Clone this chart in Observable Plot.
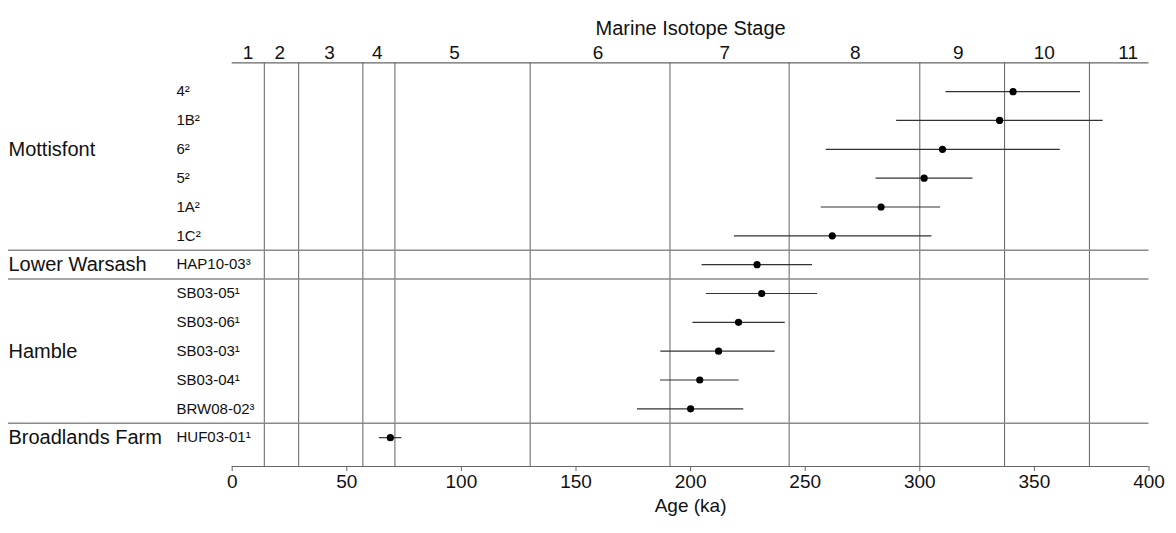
<!DOCTYPE html>
<html>
<head>
<meta charset="utf-8">
<script src="https://cdn.jsdelivr.net/npm/d3@7"></script>
<script src="https://cdn.jsdelivr.net/npm/@observablehq/plot@0.6"></script>
<style>
  html, body { margin: 0; padding: 0; background: #fff; }
  #chart svg { display: block; }
</style>
</head>
<body>
<div id="chart"></div>
<script>
// ---- data ----
const groups = ["Mottisfont", "Lower Warsash", "Hamble", "Broadlands Farm"];
const samples = ["4²", "1B²", "6²", "5²", "1A²", "1C²", "HAP10-03³", "SB03-05¹", "SB03-06¹", "SB03-03¹", "SB03-04¹", "BRW08-02³", "HUF03-01¹"];
const sampleGroup = [0, 0, 0, 0, 0, 0, 1, 2, 2, 2, 2, 2, 3];
const ageKa  = [340.7, 334.8, 309.9, 301.9, 283.1, 261.8, 229.0, 231.0, 220.9, 212.2, 204.0, 200.0, 69.0];
const ageMin = [311.4, 289.9, 259.2, 280.9, 257.0, 219.1, 205.0, 206.9, 201.0, 187.0, 186.9, 176.8, 64.2];
const ageMax = [370.1, 380.0, 361.3, 323.2, 309.1, 305.3, 253.2, 255.4, 241.3, 236.9, 221.2, 223.2, 74.0];
const misBoundaries = [14, 29, 57, 71, 130, 191, 243, 300, 337, 374];
const misLabels = ["1", "2", "3", "4", "5", "6", "7", "8", "9", "10", "11"];
const misLabelAt = [6.9, 20.8, 42.5, 63.3, 97.0, 159.6, 214.9, 271.9, 316.8, 354.3, 390.9];
const ageTicks = [0, 50, 100, 150, 200, 250, 300, 350, 400];
const xTitle = "Age (ka)";
const topTitle = "Marine Isotope Stage";

// ---- derived tables ----
const rows = samples.map((s, i) => ({
  sample: s, row: i + 1, group: sampleGroup[i],
  age: ageKa[i], lo: ageMin[i], hi: ageMax[i]
}));
const groupInfo = groups.map((g, gi) => {
  const members = rows.filter(r => r.group === gi);
  const first = members[0].row, last = members[members.length - 1].row;
  return { name: g, labelRow: first + Math.floor((members.length - 1) / 2), lastRow: last };
});
const separators = groupInfo.slice(0, -1).map(g => g.lastRow + 0.5);
const yMax = samples.length + 1;

// ---- layout ----
const W = 1176, H = 533;
const mL = 231.7, mR = 27.5, mT = 62.3, mB = 67;
const font = "'Liberation Sans', Arial, Helvetica, sans-serif";

const chart = Plot.plot({
  width: W, height: H,
  marginLeft: mL, marginRight: mR, marginTop: mT, marginBottom: mB,
  style: { fontFamily: font, color: "#111", background: "#fff", overflow: "visible" },
  x: { domain: [0, 400], label: null },
  y: { domain: [0, yMax], reverse: true, axis: null },
  marks: [
    // MIS boundary lines
    Plot.ruleX(misBoundaries, { stroke: "#626262", strokeWidth: 1 }),
    // group separators (extend into the label column)
    Plot.ruleY(separators, { stroke: "#8a8a8a", strokeWidth: 1.4, insetLeft: -(mL - 8) }),
    // top and bottom axis lines
    Plot.ruleY([0, yMax], { stroke: "#666", strokeWidth: 1.2 }),
    // top axis: Marine Isotope Stage numbers
    Plot.axisX({
      anchor: "top", ticks: misLabelAt, tickSize: 0, tickPadding: 4,
      tickFormat: d => misLabels[misLabelAt.indexOf(d)], fontSize: 19, label: null
    }),
    Plot.text([topTitle], { frameAnchor: "top", dy: -42, fontSize: 20, fill: "#111" }),
    // bottom axis
    Plot.axisX({
      anchor: "bottom", ticks: ageTicks, tickSize: 5, tickPadding: 3,
      stroke: "#666", fontSize: 19, label: null
    }),
    Plot.text([xTitle], { frameAnchor: "bottom", dy: 45, fontSize: 19, fill: "#111" }),
    // error bars and dots
    Plot.ruleY(rows, { y: "row", x1: "lo", x2: "hi", stroke: "#333", strokeWidth: 1.2 }),
    Plot.dot(rows, { y: "row", x: "age", r: 3.6, fill: "#000", stroke: null }),
    // sample labels
    Plot.text(rows, { y: "row", text: "sample", frameAnchor: "left", dx: 176 - mL, textAnchor: "start", fontSize: 15, fill: "#111" }),
    // group labels
    Plot.text(groupInfo, { y: "labelRow", text: "name", frameAnchor: "left", dx: 8 - mL, textAnchor: "start", fontSize: 20, fill: "#111" })
  ]
});
document.getElementById("chart").appendChild(chart);
</script>
</body>
</html>
